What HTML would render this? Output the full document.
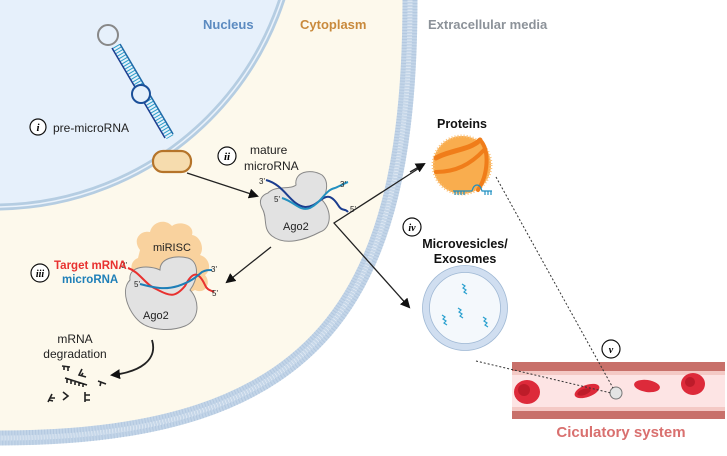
<!DOCTYPE html>
<html><head><meta charset="utf-8">
<style>
html,body{margin:0;padding:0;background:#fff;}
svg{display:block;font-family:"Liberation Sans",sans-serif;}
</style></head><body>
<svg width="727" height="456" viewBox="0 0 727 456" xmlns="http://www.w3.org/2000/svg">
<defs>
<marker id="ah" markerWidth="10" markerHeight="10" refX="8" refY="5" orient="auto" markerUnits="userSpaceOnUse">
<path d="M0,0 L10,5 L0,10 Z" fill="#111"/></marker>
</defs>
<rect width="727" height="456" fill="#fff"/>
<!-- cytoplasm -->
<path d="M0,0 L410,0 C410,300 320,438 0,438 Z" fill="#fdf9ec"/>
<!-- nucleus -->
<circle cx="-5" cy="-95" r="302" fill="#e6f0fb"/>
<circle cx="-5" cy="-95" r="302" fill="none" stroke="#b5cde2" stroke-width="7"/>
<circle cx="-5" cy="-95" r="302" fill="none" stroke="#eaf2fb" stroke-width="1.5"/>
<!-- cell membrane -->
<path d="M410,0 C410,300 320,438 0,438" fill="none" stroke="#c3d5e8" stroke-width="15"/>
<path d="M410,0 C410,300 320,438 0,438" fill="none" stroke="#eef4fa" stroke-width="5" stroke-dasharray="1.5 1.5"/>
<path d="M410,0 C410,300 320,438 0,438" fill="none" stroke="#a3bcd8" stroke-width="15" stroke-dasharray="1 2" opacity="0.5"/>

<!-- titles -->
<text x="203" y="29" font-size="13" font-weight="bold" fill="#5b8ac0">Nucleus</text>
<text x="300" y="29" font-size="13" font-weight="bold" fill="#c98a3c">Cytoplasm</text>
<text x="428" y="29" font-size="13" font-weight="bold" fill="#8c9299">Extracellular media</text>

<!-- pre-microRNA hairpin -->
<circle cx="108" cy="35" r="10" fill="#e6f0fb" stroke="#888" stroke-width="2"/>
<line x1="116" y1="46" x2="170" y2="137" stroke="#2a9fc9" stroke-width="8" stroke-dasharray="1 2"/>
<line x1="112" y1="48" x2="165" y2="138" stroke="#1b3d8f" stroke-width="1.5"/>
<line x1="120" y1="44" x2="173" y2="134" stroke="#1f6aa8" stroke-width="1.5"/>
<circle cx="141" cy="94" r="9" fill="#e6f0fb" stroke="#1b4f99" stroke-width="2"/>
<!-- pore -->
<rect x="153" y="151" width="38" height="21" rx="10" fill="#f6dcae" stroke="#b5742a" stroke-width="2.2"/>

<!-- i -->
<circle cx="38" cy="127" r="8" fill="#fff" stroke="#111" stroke-width="1.2"/>
<text x="38" y="131" font-size="11" font-family="Liberation Serif,serif" font-style="italic" font-weight="bold" text-anchor="middle">i</text>
<text x="53" y="132" font-size="12" fill="#222">pre-microRNA</text>

<!-- ii -->
<circle cx="227" cy="156" r="9" fill="#fff" stroke="#111" stroke-width="1.2"/>
<text x="227" y="160" font-size="11" font-family="Liberation Serif,serif" font-style="italic" font-weight="bold" text-anchor="middle">ii</text>
<text x="250" y="154" font-size="12" fill="#222">mature</text>
<text x="244" y="170" font-size="12" fill="#222">microRNA</text>

<!-- arrow pore -> ago2 -->
<line x1="187" y1="173" x2="257" y2="196" stroke="#222" stroke-width="1.3" marker-end="url(#ah)"/>

<!-- Ago2 top -->
<path d="M268,193 C275,185 290,190 296,185 C294,172 310,168 322,175 C330,182 326,195 322,200 C332,210 332,228 320,232 C305,240 285,246 272,236 C262,228 268,218 262,208 C258,200 262,195 268,193 Z" fill="#e2e2e2" stroke="#888" stroke-width="1"/>
<path d="M266,180 C285,185 290,205 305,207 C320,208 325,185 338,205 C342,212 345,208 348,212" fill="none" stroke="#1b3d8f" stroke-width="2"/>
<path d="M282,198 C295,202 300,212 310,208 C322,202 325,190 335,188 C340,186 345,183 348,182" fill="none" stroke="#2390c0" stroke-width="2"/>
<text x="259" y="184" font-size="8" fill="#222">3'</text>
<text x="274" y="202" font-size="8" fill="#222">5'</text>
<text x="340" y="187" font-size="8" fill="#222">3'</text>
<text x="350" y="212" font-size="8" fill="#222">5'</text>
<text x="283" y="230" font-size="11" fill="#222">Ago2</text>

<!-- arrows from ago2 -->
<polyline points="424,165 334,223 409,307" fill="none" stroke="#222" stroke-width="1.3"/>
<line x1="410" y1="172" x2="424" y2="164" stroke="#222" stroke-width="1.3" marker-end="url(#ah)"/>
<line x1="400" y1="297" x2="409" y2="307" stroke="#222" stroke-width="1.3" marker-end="url(#ah)"/>
<line x1="271" y1="247" x2="227" y2="282" stroke="#222" stroke-width="1.3" marker-end="url(#ah)"/>

<!-- miRISC -->
<path d="M140,250 C132,240 140,230 150,232 C152,222 165,218 172,226 C180,220 195,225 192,235 C200,236 205,248 200,255 C210,258 212,270 205,275 C212,283 205,295 195,290 C185,296 175,290 170,285 L140,280 C130,275 128,262 138,258 Z" fill="#f9d29e"/>
<path d="M130,280 C128,265 150,265 160,270 C160,258 175,255 188,258 C200,262 198,280 190,290 C200,300 200,320 185,326 C170,332 150,330 140,322 C128,312 120,290 130,280 Z" fill="#e2e2e2" stroke="#888" stroke-width="1"/>
<text x="153" y="251" font-size="11" fill="#222">miRISC</text>
<path d="M128,268 C140,272 145,285 158,290 C170,296 175,298 185,286 C192,272 198,270 205,285 C207,290 210,290 214,292" fill="none" stroke="#e8312f" stroke-width="2"/>
<path d="M140,284 C155,288 165,290 178,286 C190,282 195,278 202,272 C206,270 208,270 212,270" fill="none" stroke="#1e7fb8" stroke-width="2"/>
<text x="121" y="268" font-size="8" fill="#222">3'</text>
<text x="134" y="287" font-size="8" fill="#222">5'</text>
<text x="211" y="272" font-size="8" fill="#222">3'</text>
<text x="212" y="296" font-size="8" fill="#222">5'</text>
<text x="143" y="319" font-size="11" fill="#222">Ago2</text>

<!-- iii -->
<circle cx="40" cy="273" r="9" fill="#fff" stroke="#111" stroke-width="1.2"/>
<text x="40" y="277" font-size="10" font-family="Liberation Serif,serif" font-style="italic" font-weight="bold" text-anchor="middle">iii</text>
<text x="54" y="269" font-size="11.5" font-weight="bold" fill="#e8312f">Target mRNA</text>
<text x="62" y="283" font-size="11.5" font-weight="bold" fill="#1e7fb8">microRNA</text>

<!-- degradation -->
<text x="75" y="343" font-size="12" fill="#222" text-anchor="middle">mRNA</text>
<text x="75" y="358" font-size="12" fill="#222" text-anchor="middle">degradation</text>
<path d="M152,340 C158,360 140,372 112,375" fill="none" stroke="#222" stroke-width="1.8" marker-end="url(#ah)"/>
<g stroke="#222" stroke-width="1.6" fill="none">
<path d="M62,366 l8,1 M64,366 v4 M68,367 v4"/>
<path d="M82,369 l-3,6 l7,2 M83,373 l-2,3"/>
<path d="M65,378 l22,7 M67,379 v4 M71,380 v4 M75,381 v4 M79,382 v4 M83,383 v4"/>
<path d="M98,381 l8,3 M101,382 l-1,4"/>
<path d="M48,402 l4,-8 M50,398 h5 M49,400 l4,1"/>
<path d="M63,392 l5,4 l-5,4"/>
<path d="M85,392 v10 M85,395 h5 M85,400 h5"/>
</g>

<!-- Proteins -->
<text x="462" y="128" font-size="12.5" font-weight="bold" fill="#111" text-anchor="middle">Proteins</text>
<circle cx="462" cy="165" r="29" fill="#f9ad4e"/>
<circle cx="462" cy="165" r="29" fill="none" stroke="#fbc27a" stroke-width="3" stroke-dasharray="1 2"/>
<path d="M436,158 C450,150 470,150 480,140" fill="none" stroke="#f07d1a" stroke-width="5" stroke-linecap="round"/>
<path d="M436,172 C455,172 470,165 484,150" fill="none" stroke="#f07d1a" stroke-width="4" stroke-linecap="round"/>
<path d="M480,140 C490,150 488,175 478,190" fill="none" stroke="#f07d1a" stroke-width="4" stroke-linecap="round"/>
<g stroke="#1f8fc2" stroke-width="1.2" fill="none">
<path d="M453,191 h19 M455,191 v4 M458,191 v4 M461,191 v4 M464,191 v4 M472,191 c2,-8 8,-8 10,0 h10 M485,191 v4 M488,191 v4 M491,191 v4"/>
</g>

<!-- iv -->
<circle cx="412" cy="227" r="9" fill="#fff" stroke="#111" stroke-width="1.2"/>
<text x="412" y="231" font-size="10" font-family="Liberation Serif,serif" font-style="italic" font-weight="bold" text-anchor="middle">iv</text>
<text x="465" y="248" font-size="12.5" font-weight="bold" fill="#111" text-anchor="middle">Microvesicles/</text>
<text x="465" y="263" font-size="12.5" font-weight="bold" fill="#111" text-anchor="middle">Exosomes</text>
<circle cx="465" cy="308" r="39" fill="#f4f8fc" stroke="#d0def0" stroke-width="7"/>
<circle cx="465" cy="308" r="42.5" fill="none" stroke="#9fb8d4" stroke-width="0.8"/>
<circle cx="465" cy="308" r="35.5" fill="none" stroke="#9fb8d4" stroke-width="0.8"/>
<g stroke="#2aa0cf" stroke-width="1.2" fill="none">
<path d="M462,284 l3,2 l-2,2 l3,2 l-2,2 l3,2"/>
<path d="M442,315 l3,2 l-2,2 l3,2 l-2,2 l3,2"/>
<path d="M458,308 l3,2 l-2,2 l3,2 l-2,2 l3,2"/>
<path d="M483,317 l3,2 l-2,2 l3,2 l-2,2 l3,2"/>
</g>

<!-- vessel -->
<rect x="512" y="362" width="213" height="9" fill="#c8706a"/>
<rect x="512" y="371" width="213" height="4" fill="#f4c9c5"/>
<rect x="512" y="375" width="213" height="32" fill="#fde4e4"/>
<rect x="512" y="407" width="213" height="4" fill="#f4c9c5"/>
<rect x="512" y="411" width="213" height="8" fill="#c8706a"/>
<g fill="#dd2a3a">
<ellipse cx="527" cy="392" rx="13" ry="12"/>
<ellipse cx="587" cy="391" rx="13" ry="6" transform="rotate(-20 587 391)"/>
<ellipse cx="647" cy="386" rx="13" ry="6" transform="rotate(8 647 386)"/>
<ellipse cx="693" cy="384" rx="12" ry="11"/>
</g>
<g fill="#a8131f" opacity="0.6">
<ellipse cx="524" cy="390" rx="6" ry="6"/>
<ellipse cx="690" cy="382" rx="5" ry="5"/>
<ellipse cx="584" cy="392" rx="7" ry="3" transform="rotate(-20 584 392)"/>
</g>
<circle cx="616" cy="393" r="6" fill="#e4e4e4" stroke="#777" stroke-width="1"/>
<line x1="496" y1="177" x2="613" y2="388" stroke="#333" stroke-width="1" stroke-dasharray="2 2"/>
<line x1="476" y1="361" x2="611" y2="393" stroke="#333" stroke-width="1" stroke-dasharray="2 2"/>
<circle cx="611" cy="349" r="9" fill="#fff" stroke="#111" stroke-width="1.2"/>
<text x="611" y="353" font-size="10" font-family="Liberation Serif,serif" font-style="italic" font-weight="bold" text-anchor="middle">v</text>
<text x="621" y="437" font-size="15" font-weight="bold" fill="#d9706f" text-anchor="middle">Ciculatory system</text>
</svg>
</body></html>
